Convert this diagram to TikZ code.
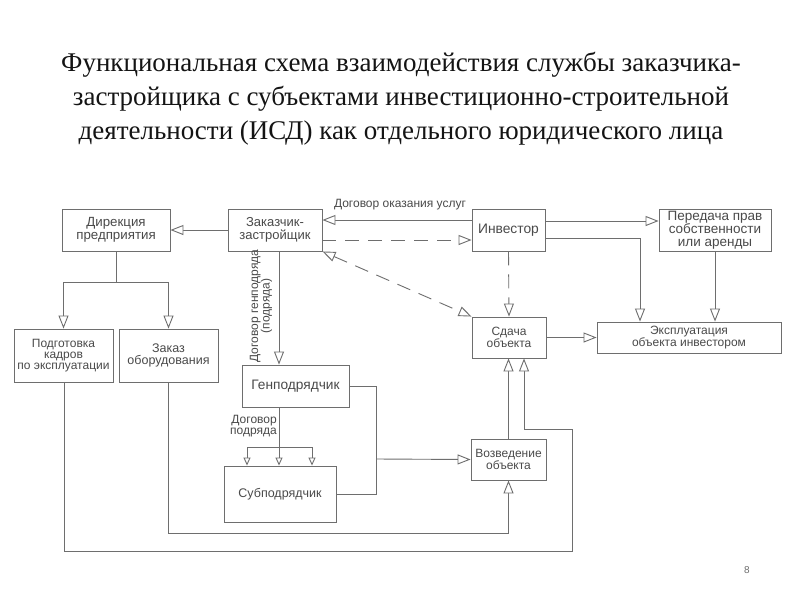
\documentclass[tikz,border=0pt]{standalone}
\usepackage{fontspec}
\setmainfont{Liberation Serif}
\setsansfont{Liberation Sans}
\usetikzlibrary{arrows.meta,calc}
\definecolor{lc}{HTML}{6E6E6E}
\definecolor{tc}{HTML}{4A4A4A}
\definecolor{titlec}{HTML}{141414}
\tikzset{
  box/.style={draw=lc, line width=0.9pt, align=center, inner sep=0pt, text=tc,
    font=\sffamily\fontsize{12}{12}\selectfont},
  fs/.style={font=\sffamily\fontsize{#1}{12.5}\selectfont},
  ln/.style={draw=lc, line width=0.9pt},
  tip/.tip={Triangle[open, length=13pt, width=10pt, fill=white]},
  arr/.style={ln, -tip},
  sarr/.style={ln, -{Triangle[open, length=8pt, width=7pt, fill=white]}},
  dsh/.style={dash pattern=on 14pt off 9pt},
  lbl/.style={text=tc, font=\sffamily\fontsize{12}{11.5}\selectfont, align=center, inner sep=0pt}
}
\begin{document}
\begin{tikzpicture}[x=1pt,y=-1pt]
\useasboundingbox (0,0) rectangle (800,600);
\fill[white] (0,0) rectangle (800,600);
% title
\node[text=titlec, font=\fontsize{27}{34}\selectfont, align=center] (title) at (401,99)
 {Функциональная схема взаимодействия службы заказчика-\\
  застройщика с субъектами инвестиционно-строительной\\
  деятельности (ИСД) как отдельного юридического лица};
% boxes
\node[box, fs=13.3, minimum width=108pt, minimum height=42pt] (dir) at (116,230) {Дирекция\\предприятия};
\node[box, fs=13, minimum width=94pt, minimum height=42pt] (zak) at (275,230) {Заказчик-\\застройщик};
\node[box, fs=13.8, minimum width=73pt, minimum height=42pt] (inv) at (508.5,230) {Инвестор};
\node[box, fs=13.5, minimum width=112pt, minimum height=42pt] (per) at (715,230) {Передача прав\\собственности\\или аренды};
\node[box, minimum width=74pt, minimum height=41pt] (sda) at (509,337.5) {Сдача\\объекта};
\node[box, font=\sffamily\fontsize{12}{11.5}\selectfont, minimum width=184pt, minimum height=31pt] (eks) at (689,337.5) {Эксплуатация\\объекта инвестором};
\node[box, font=\sffamily\fontsize{12}{11}\selectfont, minimum width=99pt, minimum height=53pt] (podg) at (63.5,355.5) {Подготовка\\кадров\\по эксплуатации};
\node[box, fs=12.5, minimum width=99pt, minimum height=53pt] (zakaz) at (168.5,355.5) {Заказ\\оборудования};
\node[box, fs=13.7, minimum width=107pt, minimum height=42pt] (gen) at (295.5,386) {Генподрядчик};
\node[box, fs=12.5, minimum width=112pt, minimum height=56pt] (sub) at (280,494) {Субподрядчик};
\node[box, minimum width=75pt, minimum height=41pt] (voz) at (508.5,459.5) {Возведение\\объекта};
% coordinates
\coordinate (d1) at (116,282);
\coordinate (g1) at (279,251);
\coordinate (g2) at (279,447);
\coordinate (s1) at (247,447);
\coordinate (s3) at (312,447);
\coordinate (j1) at (376,386);
\coordinate (j2) at (376,494);
\coordinate (j3) at (376,459);
\coordinate (e1) at (640,238);
\coordinate (p1) at (64,551);
\coordinate (p2) at (572,551);
\coordinate (p3) at (572,429);
\coordinate (p4) at (524,429);
\coordinate (z1) at (168,533);
% connectors
\draw[arr] (zak.west) -- (dir.east);
\draw[ln] (dir.south) -- (d1);
\draw[arr] (d1) -| (podg.north);
\draw[arr] (d1) -| (zakaz.north);
\draw[arr] ($(inv.west)+(0,-10)$) -- ($(zak.east)+(0,-10)$);
\node[lbl] (lbl1) at (400,205) {Договор оказания услуг};
\draw[arr, dsh] ($(zak.east)+(0,10)$) -- ($(inv.west)+(0,10)$);
\draw[ln, dsh, tip-tip] (zak.south east) -- (sda.north west);
\draw[arr, dsh] (inv.south) -- (sda.north);
\draw[arr] ($(inv.east)+(0,-9)$) -- ($(per.west)+(0,-9)$);
\draw[ln] ($(inv.east)+(0,8)$) -- (e1);
\draw[arr] (e1) -- (e1 |- eks.north);
\draw[arr] (per.south) -- (per.south |- eks.north);
\draw[arr] (sda.east) -- (eks.west);
\draw[arr] (g1) -- (g1 |- gen.north);
\node[lbl, rotate=90] (lbl2) at (261,306) {Договор генподряда\\(подряда)};
\draw[ln] (gen.south -| g2) -- (g2);
\draw[ln] (s1) -- (s3);
\draw[sarr] (s1) -- (s1 |- sub.north);
\draw[sarr] (g2) -- (g2 |- sub.north);
\draw[sarr] (s3) -- (s3 |- sub.north);
\node[lbl, anchor=east, align=right] (lbl3) at (277,426) {Договор\\подряда};
\draw[ln] (gen.east) -- (j1) -- (j2) -- (sub.east);
\draw[arr] (j3) -- (voz.west);
\draw[arr] (voz.north) -- (voz.north |- sda.south);
\draw[ln] (podg.south -| p1) -- (p1) -- (p2) -- (p3) -- (p4);
\draw[arr] (p4) -- (p4 |- sda.south);
\draw[ln] (zakaz.south -| z1) -- (z1) -- (z1 -| voz.south);
\draw[arr] (z1 -| voz.south) -- (voz.south);
\node[text=lc, font=\sffamily\fontsize{10}{12}\selectfont] (pg) at (747,570) {8};
\end{tikzpicture}
\end{document}
